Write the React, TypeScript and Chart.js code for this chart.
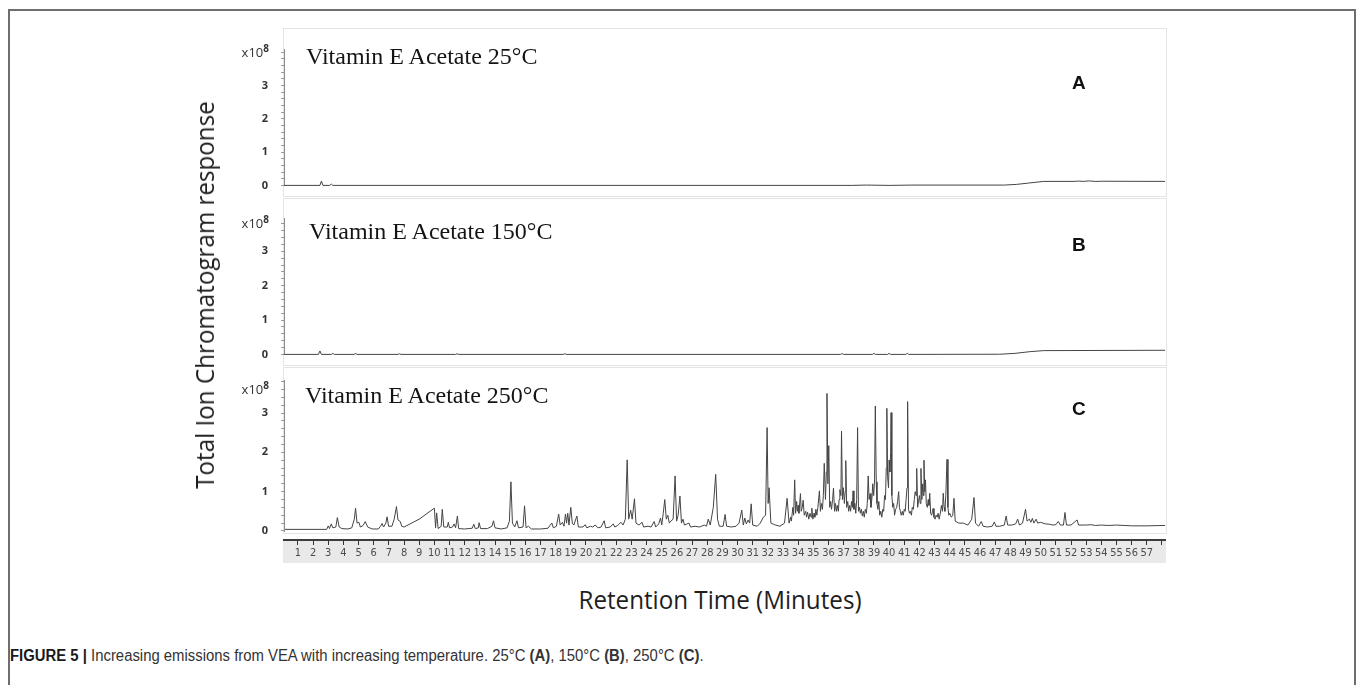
import React, { useEffect, useRef } from "react";
import { Chart, registerables } from "chart.js";

Chart.register(...registerables);

// ---- data (retention time in minutes, response in x10^8) ----
const traceA: [number, number][] = [
  [0.08, 0], [2.45, 0], [2.55, 0.13], [2.65, 0], [3.1, 0], [3.2, 0.04], [3.3, 0],
  [37.5, 0], [38.5, 0.01], [40.0, 0], [41.5, 0.01], [47.6, 0.01], [48.4, 0.03],
  [49.2, 0.07], [50.2, 0.12], [52.2, 0.12], [52.5, 0.13], [52.8, 0.12], [53.2, 0.135],
  [53.6, 0.12], [54.1, 0.125], [58.2, 0.12],
];

const traceB: [number, number][] = [
  [0.08, 0], [2.35, 0], [2.45, 0.1], [2.55, 0], [3.2, 0], [3.3, 0.03], [3.4, 0],
  [4.7, 0], [4.8, 0.025], [4.9, 0], [7.6, 0], [7.7, 0.02], [7.8, 0],
  [11.4, 0], [11.5, 0.02], [11.6, 0], [18.5, 0], [18.6, 0.02], [18.7, 0],
  [36.8, 0], [36.9, 0.025], [37.0, 0], [38.9, 0], [39.0, 0.03], [39.1, 0],
  [39.9, 0], [40.0, 0.03], [40.1, 0], [41.1, 0], [41.2, 0.03], [41.3, 0],
  [47.3, 0.005], [48.3, 0.03], [49.3, 0.08], [50.2, 0.11], [58.2, 0.12],
];

const traceC: [number, number][] = [
  [0.08, 0.04], [2.9, 0.04], [3.0, 0.13], [3.08, 0.06], [3.2, 0.18], [3.3, 0.08], [3.5, 0.1],
  [3.6, 0.34], [3.72, 0.1], [3.9, 0.06], [4.3, 0.05], [4.55, 0.08], [4.72, 0.3], [4.8, 0.58],
  [4.9, 0.2], [5.02, 0.22], [5.12, 0.1], [5.3, 0.14], [5.44, 0.24], [5.6, 0.1], [5.9, 0.05],
  [6.3, 0.05], [6.45, 0.12], [6.55, 0.19], [6.65, 0.1], [6.8, 0.2], [6.88, 0.36], [6.98, 0.12],
  [7.2, 0.12], [7.35, 0.3], [7.5, 0.62], [7.6, 0.28], [7.75, 0.24], [7.85, 0.12], [8.0, 0.1],
  [9.0, 0.3], [10.0, 0.58], [10.08, 0.08], [10.15, 0.46], [10.25, 0.06], [10.45, 0.12],
  [10.52, 0.55], [10.62, 0.1], [10.85, 0.1], [10.92, 0.22], [11.0, 0.08], [11.2, 0.1],
  [11.3, 0.18], [11.4, 0.08], [11.52, 0.38], [11.6, 0.06], [12.0, 0.05], [12.5, 0.07],
  [12.6, 0.17], [12.7, 0.06], [12.9, 0.08], [12.95, 0.21], [13.05, 0.06], [13.5, 0.06],
  [13.8, 0.12], [13.9, 0.26], [14.0, 0.08], [14.4, 0.05], [14.8, 0.08], [14.95, 0.25],
  [15.05, 1.25], [15.15, 0.2], [15.3, 0.1], [15.45, 0.26], [15.55, 0.08], [15.85, 0.1],
  [15.95, 0.64], [16.05, 0.08], [16.2, 0.12], [16.4, 0.05], [17.0, 0.05], [17.5, 0.07],
  [17.65, 0.15], [17.75, 0.2], [17.85, 0.08], [18.05, 0.12], [18.2, 0.43], [18.3, 0.15],
  [18.45, 0.22], [18.55, 0.12], [18.65, 0.43], [18.72, 0.2], [18.8, 0.45], [18.88, 0.15],
  [19.0, 0.6], [19.1, 0.2], [19.2, 0.15], [19.4, 0.38], [19.5, 0.1], [19.8, 0.1],
  [19.95, 0.16], [20.05, 0.08], [20.3, 0.12], [20.45, 0.1], [20.6, 0.15], [20.8, 0.08],
  [21.0, 0.1], [21.2, 0.26], [21.3, 0.08], [21.6, 0.1], [21.8, 0.18], [21.9, 0.1],
  [22.1, 0.14], [22.3, 0.22], [22.45, 0.15], [22.6, 0.3], [22.72, 1.81], [22.82, 0.3],
  [22.95, 0.53], [23.05, 0.3], [23.2, 0.82], [23.3, 0.2], [23.5, 0.15], [23.7, 0.22],
  [23.8, 0.1], [24.1, 0.12], [24.3, 0.1], [24.5, 0.24], [24.6, 0.1], [24.8, 0.18],
  [24.92, 0.33], [25.0, 0.15], [25.1, 0.45], [25.2, 0.8], [25.3, 0.3], [25.4, 0.4],
  [25.5, 0.2], [25.6, 0.25], [25.75, 0.3], [25.88, 1.4], [25.98, 0.25], [26.08, 0.4],
  [26.2, 0.89], [26.3, 0.2], [26.4, 0.3], [26.5, 0.15], [26.8, 0.2], [26.9, 0.1],
  [27.2, 0.12], [27.5, 0.1], [27.8, 0.15], [27.95, 0.12], [28.07, 0.3], [28.2, 0.15],
  [28.4, 0.6], [28.56, 1.44], [28.68, 0.3], [28.8, 0.12], [29.05, 0.12], [29.18, 0.42],
  [29.28, 0.12], [29.6, 0.1], [29.9, 0.12], [30.1, 0.2], [30.28, 0.53], [30.38, 0.15],
  [30.48, 0.33], [30.58, 0.18], [30.7, 0.28], [30.8, 0.2], [30.9, 0.69], [31.0, 0.15],
  [31.3, 0.12], [31.5, 0.2], [31.7, 0.35], [31.85, 0.4], [31.95, 2.63], [32.02, 0.7],
  [32.08, 1.1], [32.2, 0.2], [32.5, 0.15], [32.8, 0.12], [33.1, 0.2], [33.27, 0.83],
  [33.4, 0.2], [33.5, 0.35], [33.55, 0.25], [33.65, 0.6], [33.7, 0.4], [33.77, 1.3],
  [33.83, 0.45], [33.9, 0.75], [33.95, 0.5], [34.0, 0.65], [34.05, 0.45], [34.15, 0.95],
  [34.2, 0.5], [34.27, 0.6], [34.33, 0.78], [34.4, 0.4], [34.5, 0.5], [34.55, 0.35],
  [34.62, 0.48], [34.7, 0.3], [34.78, 0.45], [34.85, 0.35], [34.9, 0.58], [34.97, 0.3],
  [35.05, 0.45], [35.1, 0.35], [35.17, 0.55], [35.23, 0.4], [35.3, 0.6], [35.4, 1.02],
  [35.47, 0.5], [35.53, 0.7], [35.6, 0.55], [35.66, 0.9], [35.72, 1.72], [35.8, 0.8],
  [35.86, 1.5], [35.9, 3.5], [35.96, 1.2], [36.02, 2.17], [36.08, 0.6], [36.14, 0.75],
  [36.2, 0.55], [36.27, 0.8], [36.33, 1.09], [36.4, 0.5], [36.46, 0.7], [36.52, 0.5],
  [36.58, 0.65], [36.65, 0.5], [36.7, 0.8], [36.75, 1.05], [36.82, 0.9], [36.86, 2.54],
  [36.92, 0.8], [36.98, 1.1], [37.05, 0.7], [37.1, 1.0], [37.14, 1.79], [37.2, 0.6],
  [37.27, 0.75], [37.33, 0.5], [37.4, 0.65], [37.46, 0.5], [37.52, 0.75], [37.58, 0.6],
  [37.62, 1.02], [37.68, 0.55], [37.74, 0.7], [37.8, 0.45], [37.86, 0.8], [37.92, 2.63],
  [37.98, 0.5], [38.05, 0.6], [38.1, 0.45], [38.17, 0.55], [38.23, 0.38], [38.3, 0.5],
  [38.36, 0.35], [38.43, 0.55], [38.5, 0.45], [38.56, 0.7], [38.62, 1.4], [38.68, 0.8],
  [38.75, 0.95], [38.8, 0.6], [38.87, 0.85], [38.92, 1.2], [38.98, 0.9], [39.04, 1.3],
  [39.09, 3.18], [39.15, 1.25], [39.2, 0.7], [39.26, 0.55], [39.32, 0.75], [39.38, 0.4],
  [39.45, 0.5], [39.52, 0.35], [39.58, 0.55], [39.64, 0.5], [39.7, 0.9], [39.76, 0.8],
  [39.81, 1.6], [39.85, 3.12], [39.9, 1.38], [39.96, 1.1], [40.0, 1.8], [40.05, 1.5],
  [40.1, 2.0], [40.13, 3.01], [40.18, 0.9], [40.24, 0.6], [40.3, 0.7], [40.36, 0.4],
  [40.43, 0.55], [40.5, 0.6], [40.56, 0.75], [40.63, 1.0], [40.68, 0.6], [40.74, 0.5],
  [40.8, 0.4], [40.87, 0.5], [40.93, 0.4], [41.0, 0.55], [41.06, 0.5], [41.12, 0.8],
  [41.18, 1.1], [41.22, 3.29], [41.28, 0.55], [41.34, 0.45], [41.4, 0.5], [41.47, 0.4],
  [41.53, 0.6], [41.6, 0.55], [41.66, 0.8], [41.72, 1.0], [41.78, 0.9], [41.82, 1.59],
  [41.88, 0.6], [41.94, 0.75], [42.0, 0.9], [42.05, 0.7], [42.1, 1.59], [42.16, 0.8],
  [42.22, 1.2], [42.26, 0.9], [42.3, 1.8], [42.35, 1.0], [42.4, 1.3], [42.45, 0.7],
  [42.52, 0.6], [42.58, 0.8], [42.63, 0.65], [42.68, 0.96], [42.74, 0.45], [42.8, 0.4],
  [42.86, 0.5], [42.9, 0.57], [42.96, 0.35], [43.03, 0.3], [43.1, 0.4], [43.17, 0.35],
  [43.23, 0.45], [43.3, 0.3], [43.38, 0.45], [43.45, 0.65], [43.52, 0.5], [43.57, 0.96],
  [43.63, 0.6], [43.68, 0.5], [43.74, 0.9], [43.82, 1.82], [43.88, 0.6], [43.94, 0.4],
  [44.0, 0.45], [44.1, 0.35], [44.2, 0.4], [44.28, 0.83], [44.36, 0.25], [44.6, 0.2],
  [44.9, 0.2], [45.2, 0.15], [45.45, 0.3], [45.6, 0.85], [45.7, 0.2], [45.9, 0.12],
  [46.08, 0.24], [46.2, 0.12], [46.5, 0.1], [46.8, 0.12], [46.94, 0.23], [47.05, 0.12],
  [47.3, 0.12], [47.6, 0.15], [47.72, 0.38], [47.82, 0.15], [48.1, 0.15], [48.35, 0.18],
  [48.48, 0.3], [48.6, 0.15], [48.8, 0.2], [49.0, 0.55], [49.1, 0.25], [49.25, 0.3],
  [49.35, 0.22], [49.45, 0.32], [49.55, 0.2], [49.7, 0.3], [49.8, 0.2], [50.0, 0.22],
  [50.3, 0.18], [50.6, 0.17], [50.8, 0.15], [51.0, 0.16], [51.16, 0.24], [51.3, 0.15],
  [51.5, 0.15], [51.6, 0.47], [51.7, 0.15], [52.0, 0.15], [52.4, 0.28], [52.5, 0.15],
  [53.0, 0.15], [53.3, 0.16], [53.6, 0.14], [54.0, 0.15], [54.5, 0.14], [55.0, 0.15],
  [55.5, 0.14], [56.0, 0.13], [56.5, 0.13], [57.0, 0.13], [58.2, 0.14],
];

const yTickLabels = ["0", "1", "2", "3"];
const minuteLabels = [
  "1", "2", "3", "4", "5", "6", "7", "8", "9", "10", "11", "12", "13", "14", "15", "16", "17", "18", "19",
  "20", "21", "22", "23", "24", "25", "26", "27", "28", "29", "30", "31", "32", "33", "34", "35", "36", "37",
  "38", "39", "40", "41", "42", "43", "44", "45", "46", "47", "48", "49", "50", "51", "52", "53", "54", "55",
  "56", "57",
];
const panelTitles = ["Vitamin E Acetate 25°C", "Vitamin E Acetate 150°C", "Vitamin E Acetate 250°C"];
const panelLetters = ["A", "B", "C"];

// ---- helpers ----
const X_MIN = 0.08;
const X_MAX = 58.2;

const yLabel = (v: number) => {
  const r = Math.round(v);
  return Math.abs(v - r) < 1e-6 && r >= 0 && r < yTickLabels.length ? yTickLabels[r] : "";
};
const xLabel = (v: number) => {
  const r = Math.round(v);
  return Math.abs(v - r) < 1e-6 && r >= 1 && r <= minuteLabels.length ? minuteLabels[r - 1] : "";
};

const yAxisLinePlugin = {
  id: "yAxisLine",
  afterDraw(chart: any) {
    const y = chart.scales.y;
    const ctx = chart.ctx;
    const x = Math.round(chart.chartArea.left - 0.5) + 0.5;
    ctx.save();
    ctx.strokeStyle = "#8c8c8c";
    ctx.lineWidth = 1;
    ctx.beginPath();
    ctx.moveTo(x, chart.chartArea.top);
    ctx.lineTo(x, y.getPixelForValue(0) + 1);
    ctx.stroke();
    ctx.restore();
  },
};

function makeConfig(
  trace: [number, number][],
  yMin: number,
  yMax: number,
  padTop: number,
  padBottom: number,
  withXAxis: boolean
): any {
  return {
    type: "line",
    data: {
      datasets: [
        {
          data: trace.map(([t, v]) => ({ x: t, y: v })),
          borderColor: "#444444",
          borderWidth: 1,
          pointRadius: 0,
          tension: 0,
          fill: false,
          clip: false,
        },
      ],
    },
    plugins: withXAxis ? [yAxisLinePlugin] : [],
    options: {
      responsive: false,
      animation: false,
      devicePixelRatio: 1,
      events: [],
      layout: { padding: { top: padTop, bottom: padBottom, left: 0, right: 15 } },
      plugins: { legend: { display: false }, tooltip: { enabled: false }, title: { display: false } },
      scales: {
        x: withXAxis
          ? {
              type: "linear",
              min: X_MIN,
              max: X_MAX,
              position: "bottom",
              afterFit: (s: any) => {
                s.height = 24;
              },
              ticks: {
                stepSize: 1,
                includeBounds: false,
                autoSkip: false,
                maxRotation: 0,
                minRotation: 0,
                padding: 2,
                callback: (v: number) => xLabel(v),
                font: { family: "'DejaVu Sans Condensed', 'Liberation Sans Narrow', 'Liberation Sans'", size: 11 },
                color: "#4d4d4d",
              },
              grid: { drawOnChartArea: false, tickLength: 5, tickColor: "#333", lineWidth: 1 },
              border: { display: true, color: "#3c3c3c", width: 2 },
            }
          : { type: "linear", min: X_MIN, max: X_MAX, display: false },
        y: {
          type: "linear",
          min: yMin,
          max: yMax,
          afterFit: (s: any) => {
            s.width = 84;
          },
          ticks: {
            stepSize: 0.2,
            includeBounds: false,
            autoSkip: false,
            padding: 13,
            callback: (v: number) => yLabel(v),
            font: { family: "'Open Sans'", size: 11, weight: "bold" },
            color: "#333",
          },
          grid: {
            drawOnChartArea: false,
            tickLength: 3,
            lineWidth: 1,
            tickColor: (ctx: any) => (ctx.tick && ctx.tick.value < -1e-9 ? "rgba(0,0,0,0)" : "#9a9a9a"),
          },
          border: { display: !withXAxis, color: "#8c8c8c", width: 1 },
        },
      },
    },
  };
}

function ChartBox(props: { left: number; top: number; width: number; height: number; config: any }) {
  const ref = useRef<HTMLCanvasElement | null>(null);
  useEffect(() => {
    if (!ref.current) return;
    const chart = new Chart(ref.current, props.config);
    return () => chart.destroy();
  }, []);
  return (
    <canvas
      ref={ref}
      width={props.width}
      height={props.height}
      style={{ position: "absolute", left: props.left, top: props.top, width: props.width, height: props.height }}
    />
  );
}

const abs = (s: React.CSSProperties): React.CSSProperties => ({ position: "absolute", whiteSpace: "nowrap", ...s });

export default function App() {
  const panelBoxes = [
    { top: 28, height: 169 },
    { top: 198, height: 168 },
    { top: 367, height: 167 },
  ];
  const titleTops = [44, 219, 383];
  const titleLefts = [306, 309, 305];
  const letterTops = [73, 235, 399];
  const expTops = [46, 217, 383];

  return (
    <div
      style={{
        position: "fixed",
        left: 0,
        top: 0,
        width: 1357,
        height: 685,
        background: "#ffffff",
        overflow: "hidden",
      }}
    >
      <div
        style={abs({
          left: 8,
          top: 9,
          width: 1348,
          height: 700,
          boxSizing: "border-box",
          border: "2px solid #6e6e6e",
        })}
      />
      {panelBoxes.map((p, i) => (
        <div
          key={"pb" + i}
          style={abs({
            left: 283,
            top: p.top,
            width: 884,
            height: p.height,
            boxSizing: "border-box",
            border: "1px solid #e4e4e4",
          })}
        />
      ))}
      <div style={abs({ left: 283, top: 541, width: 883, height: 22, background: "#e9e9e9" })} />

      <ChartBox left={200} top={30} width={980} height={175} config={makeConfig(traceA, 0, 4.08, 13, 13, false)} />
      <ChartBox left={200} top={199} width={980} height={175} config={makeConfig(traceB, 0, 3.95, 13, 12, false)} />
      <ChartBox left={200} top={360} width={980} height={204} config={makeConfig(traceC, -0.23, 3.84, 20, 0, true)} />

      {panelTitles.map((t, i) => (
        <div
          key={"t" + i}
          style={abs({
            left: titleLefts[i],
            top: titleTops[i],
            fontFamily: "'Liberation Serif', 'Times New Roman', serif",
            fontSize: 24,
            lineHeight: "24px",
            color: "#141414",
          })}
        >
          {t}
        </div>
      ))}
      {panelLetters.map((t, i) => (
        <div
          key={"l" + i}
          style={abs({
            left: 1072,
            top: letterTops[i],
            fontFamily: "'Liberation Sans', Arial, sans-serif",
            fontWeight: 700,
            fontSize: 19,
            lineHeight: "19px",
            color: "#111",
          })}
        >
          {t}
        </div>
      ))}
      {expTops.map((top, i) => (
        <div
          key={"e" + i}
          style={abs({
            right: 1357 - 269,
            top,
            fontFamily: "'Open Sans', sans-serif",
            fontSize: 13,
            lineHeight: "13px",
            color: "#333",
          })}
        >
          x10
          <span style={{ fontSize: 10, fontWeight: 700, position: "relative", top: -5 }}>8</span>
        </div>
      ))}

      <div
        style={abs({
          left: 204,
          top: 295,
          transform: "translate(-50%, -50%) rotate(-90deg) scaleX(0.93)",
          fontFamily: "'Open Sans', sans-serif",
          fontSize: 26,
          lineHeight: "26px",
          color: "#1e1e1e",
        })}
      >
        Total Ion Chromatogram response
      </div>
      <div
        style={abs({
          left: 720,
          top: 586,
          transform: "translateX(-50%) scaleX(0.93)",
          fontFamily: "'Open Sans', sans-serif",
          fontSize: 26,
          lineHeight: "26px",
          color: "#1e1e1e",
        })}
      >
        Retention Time (Minutes)
      </div>

      <div
        style={abs({
          left: 10,
          top: 647,
          transform: "scaleX(0.93)",
          transformOrigin: "left center",
          fontFamily: "'Liberation Sans', Arial, sans-serif",
          fontSize: 16,
          lineHeight: "18px",
          color: "#333",
        })}
      >
        <span style={{ fontWeight: 700, color: "#1a1a1a" }}>FIGURE 5 | </span>
        Increasing emissions from VEA with increasing temperature. 25°C <b>(A)</b>, 150°C <b>(B)</b>, 250°C{" "}
        <b>(C)</b>.
      </div>
    </div>
  );
}
